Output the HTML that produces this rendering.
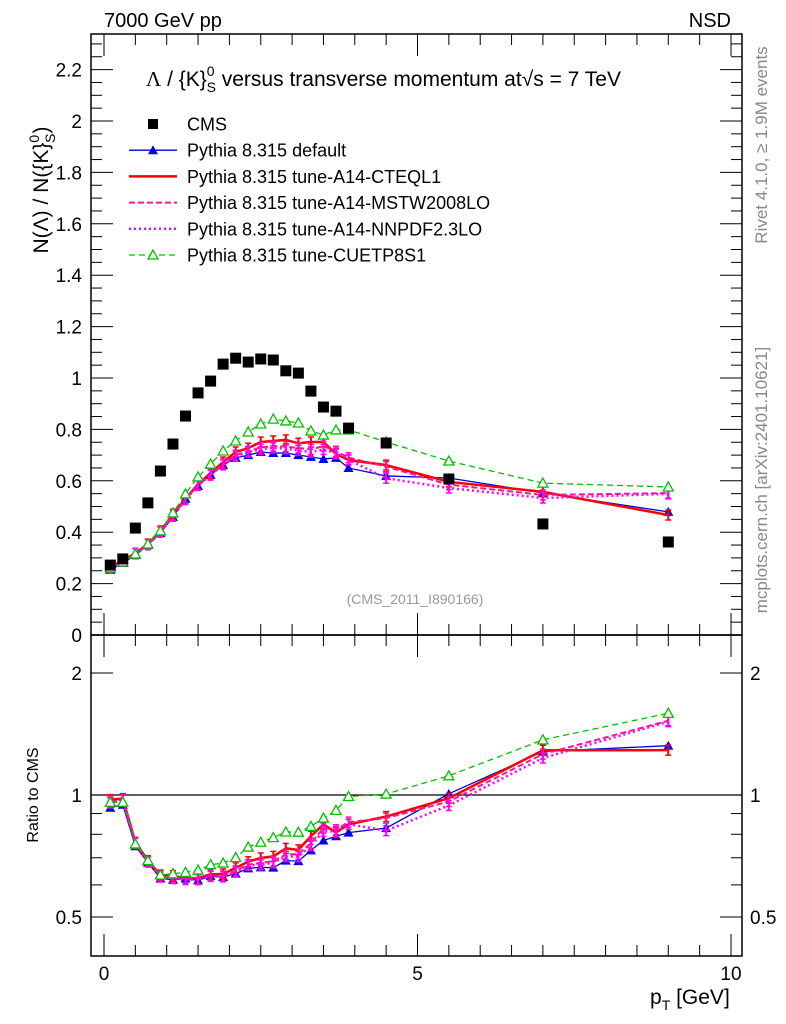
<!DOCTYPE html>
<html><head><meta charset="utf-8">
<style>
html,body{margin:0;padding:0;background:#fff;}
svg{display:block;font-family:"Liberation Sans",sans-serif;}
</style></head>
<body>
<svg id="chart" width="786" height="1024" viewBox="0 0 786 1024" xmlns="http://www.w3.org/2000/svg">
<g id="frame"></g>
<g id="marks"></g>
<g id="texts"></g>
</svg>
<script>
const pt = [0.1,0.3,0.5,0.7,0.9,1.1,1.3,1.5,1.7,1.9,2.1,2.3,2.5,2.7,2.9,3.1,3.3,3.5,3.7,3.9,4.5,5.5,7,9];
const cms = [0.272,0.296,0.416,0.514,0.638,0.743,0.852,0.942,0.988,1.054,1.077,1.062,1.074,1.070,1.028,1.019,0.949,0.887,0.871,0.805,0.747,0.607,0.432,0.362];
const pyDefault = [0.253,0.280,0.311,0.350,0.397,0.459,0.530,0.580,0.623,0.661,0.689,0.700,0.712,0.708,0.708,0.700,0.693,0.685,0.689,0.650,0.619,0.611,0.553,0.479];
const pyCteq = [0.265,0.290,0.318,0.354,0.405,0.470,0.530,0.587,0.630,0.673,0.712,0.727,0.751,0.755,0.759,0.746,0.751,0.751,0.704,0.681,0.661,0.596,0.557,0.467];
const pyMstw = [0.262,0.288,0.317,0.352,0.402,0.465,0.528,0.584,0.625,0.665,0.700,0.715,0.730,0.735,0.733,0.728,0.722,0.735,0.715,0.690,0.655,0.585,0.545,0.552];
const pyNnpdf = [0.260,0.287,0.316,0.351,0.400,0.462,0.527,0.582,0.622,0.662,0.695,0.712,0.722,0.728,0.725,0.718,0.712,0.722,0.708,0.682,0.610,0.572,0.533,0.549];
const pyCuetp = [0.261,0.284,0.315,0.354,0.405,0.475,0.549,0.615,0.665,0.716,0.755,0.790,0.821,0.840,0.833,0.825,0.794,0.778,0.798,0.798,0.751,0.677,0.591,0.576];
const yTicksMain = ["0","0.2","0.4","0.6","0.8","1","1.2","1.4","1.6","1.8","2","2.2"];
const xTickLabels = ["0","5","10"];
const ratioTickLabels = ["0.5","1","2"];

const NS="http://www.w3.org/2000/svg";
const L=91,R=742,T=34,MID=635,B=956;
const xs=v=>104+v*62.7;
const ys=v=>635-v*257;
const yr=r=>795-122*Math.log2(r);
const frame=document.getElementById('frame'),marks=document.getElementById('marks'),texts=document.getElementById('texts');
function mk(tag,attrs,parent){const e=document.createElementNS(NS,tag);for(const k in attrs)e.setAttribute(k,attrs[k]);parent.appendChild(e);return e;}
function txt(s,x,y,size,anchor,parent,extra){const e=mk('text',Object.assign({x:x,y:y,'font-size':size,'text-anchor':anchor||'start',fill:'#000'},extra||{}),parent);e.textContent=s;return e;}

const defs=mk('defs',{},document.getElementById('chart'));
const c1=mk('clipPath',{id:'cm'},defs);mk('rect',{x:L,y:T,width:R-L,height:MID-T},c1);
const c2=mk('clipPath',{id:'cr'},defs);mk('rect',{x:L,y:MID,width:R-L,height:B-MID},c2);

let f1=mk('rect',{x:L,y:T,width:R-L,height:MID-T,fill:'none',stroke:'#000','stroke-width':1.5},frame);


let f2=mk('rect',{x:L,y:MID,width:R-L,height:B-MID,fill:'none',stroke:'#000','stroke-width':1.5},frame);



for(let i=0;i<=46;i++){const v=i*0.05;const y=ys(v);if(y<T)break;const maj=i%4===0;const len=maj?22:11;
 mk('line',{x1:L,y1:y,x2:L+len,y2:y,stroke:'#000','stroke-width':1},frame);
 mk('line',{x1:R,y1:y,x2:R-len,y2:y,stroke:'#000','stroke-width':1},frame);}
yTicksMain.forEach((s,i)=>{let t=txt(s,82,ys(i*0.2)+7,19,'end',texts);
 
 });
for(let i=0;i<=20;i++){const v=i*0.5;const x=xs(v);if(x>R)break;const maj=i%10===0;const len=maj?22:11;
 mk('line',{x1:x,y1:T,x2:x,y2:T+len,stroke:'#000'},frame);
 mk('line',{x1:x,y1:MID,x2:x,y2:MID-len,stroke:'#000'},frame);
 mk('line',{x1:x,y1:MID,x2:x,y2:MID+len,stroke:'#000'},frame);
 mk('line',{x1:x,y1:B,x2:x,y2:B-len,stroke:'#000'},frame);}
xTickLabels.forEach((s,i)=>{let t=txt(s,xs(i*5),980,19,'middle',texts);
 
 });
[0.5,0.6,0.7,0.8,0.9,1,2].forEach(r=>{const y=yr(r);const maj=(r===0.5||r===1||r===2);const len=maj?22:11;
 mk('line',{x1:L,y1:y,x2:L+len,y2:y,stroke:'#000'},frame);mk('line',{x1:R,y1:y,x2:R-len,y2:y,stroke:'#000'},frame);});
ratioTickLabels.forEach(s=>{const y=yr(parseFloat(s))+7;
 let a=txt(s,82,y,19,'end',texts);
 let b=txt(s,750,y,19,'start',texts);});
let ref=mk('line',{x1:L,y1:yr(1),x2:R,y2:yr(1),stroke:'#000','stroke-width':1.2},frame);



const series=[
 {name:'pythia-default',vals:pyDefault,col:'#0000e0',w:1.3,dash:'',mk:'tri'},
 {name:'pythia-a14-cteql1',vals:pyCteq,col:'#ff0000',w:2.5,dash:'',mk:'err'},
 {name:'pythia-a14-mstw2008lo',vals:pyMstw,col:'#ff1493',w:2,dash:'6,3',mk:'err'},
 {name:'pythia-a14-nnpdf23lo',vals:pyNnpdf,col:'#ff00ff',w:2.5,dash:'2,3',mk:'err'},
 {name:'pythia-cuetp8s1',vals:pyCuetp,col:'#00c000',w:1.3,dash:'6,4',mk:'otri'}];
function drawMarker(s,x,y,g){
 if(s.mk==='tri')mk('polygon',{points:`${x},${y-5} ${x-5},${y+4} ${x+5},${y+4}`,fill:s.col},g);
 else if(s.mk==='otri')mk('polygon',{points:`${x},${y-5} ${x-5},${y+4} ${x+5},${y+4}`,fill:'#fff',stroke:s.col,'stroke-width':1.3},g);
 else {mk('line',{x1:x,y1:y-5,x2:x,y2:y+5,stroke:s.col,'stroke-width':2},g);mk('line',{x1:x-3,y1:y-5,x2:x+3,y2:y-5,stroke:s.col,'stroke-width':1.5},g);mk('line',{x1:x-3,y1:y+5,x2:x+3,y2:y+5,stroke:s.col,'stroke-width':1.5},g);}
}
series.forEach(s=>{
 const gm=mk('g',{'clip-path':'url(#cm)'},marks);
 
 
 mk('polyline',{points:pt.map((p,i)=>xs(p)+','+ys(s.vals[i])).join(' '),fill:'none',stroke:s.col,'stroke-width':s.w,'stroke-dasharray':s.dash},gm);
 pt.forEach((p,i)=>drawMarker(s,xs(p),ys(s.vals[i]),gm));
 const gr=mk('g',{'clip-path':'url(#cr)'},marks);
 
 
 mk('polyline',{points:pt.map((p,i)=>xs(p)+','+yr(s.vals[i]/cms[i])).join(' '),fill:'none',stroke:s.col,'stroke-width':s.w,'stroke-dasharray':s.dash},gr);
 pt.forEach((p,i)=>drawMarker(s,xs(p),yr(s.vals[i]/cms[i]),gr));
});
const gc=mk('g',{'clip-path':'url(#cm)'},marks);


pt.forEach((p,i)=>{mk('rect',{x:xs(p)-5.5,y:ys(cms[i])-5.5,width:11,height:11,fill:'#000'},gc);});

const leg=[{l:'CMS',t:'sq'},{l:'Pythia 8.315 default',s:0},{l:'Pythia 8.315 tune-A14-CTEQL1',s:1},{l:'Pythia 8.315 tune-A14-MSTW2008LO',s:2},{l:'Pythia 8.315 tune-A14-NNPDF2.3LO',s:3},{l:'Pythia 8.315 tune-CUETP8S1',s:4}];
const lg=mk('g',{},texts);


leg.forEach((e,i)=>{const y=124+i*26.2;
 const g=mk('g',{},lg);
 
 
 if(e.t==='sq')mk('rect',{x:148,y:y-5,width:10,height:10,fill:'#000'},g);
 else{const s=series[e.s];mk('line',{x1:129,y1:y,x2:177,y2:y,stroke:s.col,'stroke-width':s.w,'stroke-dasharray':s.dash},g);
  if(s.mk!=='err')drawMarker(s,153,y,g);}
 txt(e.l,187,y+6.5,18,'start',g);});

let t;
t=txt('7000 GeV pp',104,27,20,'start',texts);
t=txt('NSD',731,27,20,'end',texts);
t=mk('text',{x:146,y:86,'font-size':21,fill:'#000'},texts);
t.innerHTML='<tspan font-family="Liberation Serif">Λ</tspan> / {K}<tspan dy="-10" font-size="14">0</tspan><tspan dx="-8" dy="16" font-size="14">S</tspan><tspan dy="-6"> versus transverse momentum at</tspan><tspan>√s = 7 TeV</tspan>';

t=mk('text',{transform:'translate(48,190) rotate(-90)','font-size':21,'text-anchor':'middle',fill:'#000','xml:space':'preserve'},texts);
t.innerHTML='N(Λ)  /  N({K}<tspan dy="-9" font-size="14">0</tspan><tspan dx="-8" dy="16" font-size="14">S</tspan><tspan dy="-7">)</tspan>';

t=txt('Ratio to CMS',38,795,16,'middle',texts,{transform:'rotate(-90 38 795)'});
t=mk('text',{x:650,y:1004,'font-size':21,fill:'#000'},texts);
t.innerHTML='p<tspan dy="6" font-size="14">T</tspan><tspan dy="-6"> [GeV]</tspan>';

t=txt('(CMS_2011_I890166)',415,604,14,'middle',texts,{fill:'#999'});
t=txt('Rivet 4.1.0, ≥ 1.9M events',767,145,17,'middle',texts,{fill:'#888',transform:'rotate(-90 767 145)'});
t=txt('mcplots.cern.ch [arXiv:2401.10621]',767,480,17,'middle',texts,{fill:'#888',transform:'rotate(-90 767 480)'});
</script>
</body></html>
